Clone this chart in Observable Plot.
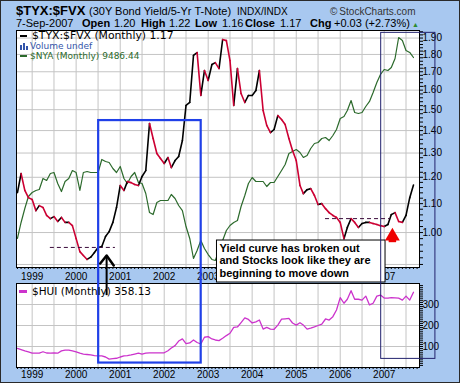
<!DOCTYPE html>
<html><head><meta charset="utf-8">
<script src="https://cdn.jsdelivr.net/npm/d3@7"></script>
<script src="https://cdn.jsdelivr.net/npm/@observablehq/plot@0.6"></script>
<style>
html,body{margin:0;padding:0;background:#fff;}
#chart{position:relative;width:460px;height:383px;background:#a8c8f0;overflow:hidden;font-family:"Liberation Sans",Arial,sans-serif;}
#chart svg{position:absolute;left:0;top:0;}
.t{position:absolute;white-space:nowrap;line-height:1;}
.lg{font-family:"DejaVu Sans",Verdana,sans-serif;}
.b{font-weight:bold;}
#border{position:absolute;left:0;top:0;width:460px;height:383px;box-sizing:border-box;border:1px solid #2a2a2a;pointer-events:none;}
</style></head><body>
<div id="chart"></div>
<script>
// ---- data (monthly, Sep 1998 .. Sep 2007) ----
const firstMonth = "1998-09-01";
const lastMonth = "2007-09-01";
const ratio = [1.141,1.215,1.149,1.122,1.115,1.075,1.093,1.086,1.058,1.047,
 1.054,1.037,1.051,1.034,1.034,1.023,0.980,0.939,0.927,0.915,
 0.922,0.936,0.952,0.955,0.987,1.003,1.034,1.086,1.168,1.149,
 1.183,1.179,1.172,1.168,1.203,1.227,1.433,1.364,1.298,1.277,
 1.256,1.281,1.239,1.268,1.285,1.355,1.521,1.536,1.794,1.811,
 1.572,1.707,1.652,1.741,1.752,1.718,1.891,1.884,1.764,1.521,
 1.718,1.582,1.536,1.572,1.572,1.598,1.707,1.496,1.424,1.391,
 1.405,1.471,1.452,1.428,1.364,1.311,1.268,1.168,1.137,1.152,
 1.156,1.130,1.097,1.100,1.082,1.068,1.058,1.051,1.034,0.980,
 1.017,1.047,1.034,1.017,1.030,1.034,1.034,1.030,1.027,1.023,
 1.020,1.027,1.061,1.068,1.037,1.034,1.058,1.122,1.170];
const nya = [5040,5433,5777,6072,6170,6219,6243,6514,6465,6637,
 6661,6391,6194,6440,6514,6710,6661,6219,6661,6686,
 6661,6661,6661,6981,6931,6907,6759,6661,6809,6514,
 6391,6563,6661,6415,6391,6145,5678,5629,5924,5973,
 5973,5973,6121,6022,5850,5727,5334,5040,4548,4745,
 4990,4794,4646,4524,4499,4745,4990,5236,5359,5433,
 5482,5826,6096,6391,6538,6440,6440,6440,6317,6415,
 6415,6563,6710,6858,7128,7177,7226,7153,7030,7079,
 7251,7374,7398,7497,7521,7447,7570,7718,7988,8037,
 8184,8430,8135,8111,8135,8283,8406,8627,8872,9069,
 9192,9167,9241,9462,9978,9904,9659,9610,9486.44];
const hui = [91,85,79,74,68,68,68,75,69,68,
 70,68,79,83,83,79,74,68,64,62,
 60,57,55,55,50,40,42,44,50,55,
 57,60,64,68,64,68,70,70,70,70,
 70,80,93,104,126,136,114,117,131,119,
 112,144,147,136,131,128,139,152,163,191,
 193,214,236,229,212,217,226,183,191,183,
 182,202,230,232,234,212,202,213,202,183,
 187,193,200,207,231,226,242,274,333,306,
 325,366,325,325,321,340,298,306,340,345,
 331,330,333,332,330,321,340,321,358.13];
const ratioTicks = [0.9,1.0,1.1,1.2,1.3,1.4,1.5,1.6,1.7,1.8,1.9];
const huiTicks = [100,200,300];
const yearLabels = ["1999","2000","2001","2002","2003","2004","2005","2006","2007"];
const hiddenUpperYears = ["2004","2005","2006"]; // covered by the note box
// annotations
const dashLevels = [{from:"1999-06-01",to:"2000-11-22",value:0.952},{from:"2005-09-01",to:"2007-02-21",value:1.047}];
const blueBox = [{from:"2000-07-06",to:"2002-11-04",top:1.447,bottom:0.65}];
const navyBox = [{from:"2006-12-07",to:"2008-03-01",top:1.933,bottom:0.659}];
const noteBox = [{from:"2003-03-15",to:"2007-01-12",top:0.974,bottom:0.848,textAt:"2003-04-05",textTop:0.966,
  text:"Yield curve has broken out\nand Stocks look like they are\nbeginning to move down"}];
const chevron = [{d:"2000-07-19",v:0.903},{d:"2000-09-10",v:0.927},{d:"2000-11-08",v:0.897}];
const blackArrow = [{d:"2000-09-10",from:0.922,to:0.812}];
const redArrow = [{d:"2007-03-10",head:0.988,from:0.984,to:0.967}];

// ---- build ----
const P = s => new Date(s + "T00:00:00Z");
const months = d3.utcMonth.range(P(firstMonth), d3.utcMonth.offset(P(lastMonth),1));
const nyaData = months.map((d,i)=>({date:d, v:nya[i]}));
const huiData = months.map((d,i)=>({date:d, v:hui[i]}));
const segs = ratio.slice(1).map((v,i)=>({d0:months[i],v0:ratio[i],d1:months[i+1],v1:v,up:v>=ratio[i]}));
const yearDates = yearLabels.map(y=>P(y+"-01-01"));
const upperYearDates = yearLabels.filter(y=>!hiddenUpperYears.includes(y)).map(y=>P(y+"-01-01"));
const xDomain = [P("1998-08-24"), P("2007-10-21")];
const gridDates = d3.utcMonth.every(6).range(xDomain[0], xDomain[1]);
const monthTicks = d3.utcMonth.range(xDomain[0], xDomain[1]);
const minorRatio = d3.range(0.90, 1.95, 0.02);
const minorHui = d3.range(10, 400, 10);
const W = 460, H = 383;
const mainM = {marginLeft:16, marginRight:41, marginTop:30, marginBottom:116};
const lowM = {marginLeft:16, marginRight:41, marginTop:283, marginBottom:16};
const st = {background:"transparent", fontFamily:"Liberation Sans, Arial, sans-serif", fontSize:"10px", color:"#000"};
const xs = {type:"utc", domain:xDomain, label:null};
const yMain = {type:"log", domain:[0.891,1.948], label:null};
const grid = "#c4c4c4";
const none = () => "";
const chart = document.getElementById("chart");

// lower panel ($HUI)
chart.append(Plot.plot({width:W, height:H, ...lowM, style:st,
  x:{...xs}, y:{domain:[0,400], label:null},
  marks:[
    Plot.frame({fill:"white"}),
    Plot.ruleX(gridDates,{stroke:grid}),
    Plot.ruleY(huiTicks,{stroke:grid}),
    Plot.line(huiData,{x:"date",y:"v",stroke:"#cc33cc",strokeWidth:1.3}),
    Plot.frame({stroke:"#000"}),
    Plot.axisY(minorHui,{anchor:"right",tickSize:3,tickFormat:none,label:null}),
    Plot.axisY(huiTicks,{anchor:"right",tickSize:0,tickPadding:3,label:null}),
    Plot.axisX(monthTicks,{anchor:"bottom",tickSize:2,tickFormat:none,label:null}),
    Plot.axisX(yearDates,{anchor:"bottom",tickSize:0,tickPadding:3,tickFormat:d3.utcFormat("%Y"),label:null})
  ]}));

// main panel base (white + grid)
chart.append(Plot.plot({width:W, height:H, ...mainM, style:st,
  x:{...xs, axis:null}, y:{...yMain, axis:null},
  marks:[
    Plot.frame({fill:"white"}),
    Plot.ruleX(gridDates,{stroke:grid}),
    Plot.ruleY(ratioTicks,{stroke:grid})
  ]}));

// $NYA overlay (own scale)
chart.append(Plot.plot({width:W, height:H, ...mainM, style:st,
  x:{...xs, axis:null}, y:{domain:[4327,10150], axis:null},
  marks:[Plot.line(nyaData,{x:"date",y:"v",stroke:"#2c6a2c",strokeWidth:1.2})]}));

// main panel top ($TYX:$FVX + annotations)
chart.append(Plot.plot({width:W, height:H, ...mainM, style:st,
  x:{...xs}, y:{...yMain},
  marks:[
    Plot.link(segs.filter(s=>s.up),{x1:"d0",y1:"v0",x2:"d1",y2:"v1",stroke:"#000",strokeWidth:1.6,strokeLinecap:"round"}),
    Plot.link(segs.filter(s=>!s.up),{x1:"d0",y1:"v0",x2:"d1",y2:"v1",stroke:"#cc0033",strokeWidth:1.6,strokeLinecap:"round"}),
    Plot.ruleY(dashLevels,{x1:d=>P(d.from),x2:d=>P(d.to),y:"value",stroke:"#3a0a3a",strokeDasharray:"4,3"}),
    Plot.frame({stroke:"#000"}),
    Plot.axisY(minorRatio,{anchor:"right",tickSize:3,tickFormat:none,label:null}),
    Plot.axisY(ratioTicks,{anchor:"right",tickSize:0,tickPadding:3,tickFormat:d3.format(".2f"),label:null}),
    Plot.axisX(monthTicks,{anchor:"bottom",tickSize:2,tickFormat:none,label:null}),
    Plot.axisX(upperYearDates,{anchor:"bottom",tickSize:0,tickPadding:5,tickFormat:d3.utcFormat("%Y"),label:null}),
    Plot.rect(noteBox,{x1:d=>P(d.from),x2:d=>P(d.to),y1:"top",y2:"bottom",fill:"white",stroke:"#000"}),
    Plot.text(noteBox,{x:d=>P(d.textAt),y:"textTop",text:"text",textAnchor:"start",lineAnchor:"top",fontWeight:"bold",fontSize:11,lineHeight:1.14,fill:"#000"}),
    Plot.rect(blueBox,{x1:d=>P(d.from),x2:d=>P(d.to),y1:"top",y2:"bottom",fill:"none",stroke:"#2040e8",strokeWidth:2.2}),
    Plot.rect(navyBox,{x1:d=>P(d.from),x2:d=>P(d.to),y1:"top",y2:"bottom",fill:"none",stroke:"#22226e",strokeWidth:1}),
    Plot.line(chevron,{x:d=>P(d.d),y:"v",stroke:"#000",strokeWidth:2.5}),
    Plot.ruleX(blackArrow,{x:d=>P(d.d),y1:"from",y2:"to",stroke:"#000",strokeWidth:2}),
    Plot.ruleX(redArrow,{x:d=>P(d.d),y1:"from",y2:"to",stroke:"#ee0000",strokeWidth:7.5}),
    Plot.dot(redArrow,{x:d=>P(d.d),y:"head",symbol:"triangle",r:5.5,fill:"#ee0000",stroke:null})
  ]}));

// ---- texts (title, info line, legends) ----
function T(html, left, top, size, cls, color){
  const e=document.createElement("div"); e.className="t "+(cls||""); e.innerHTML=html;
  e.style.left=left+"px"; e.style.top=top+"px"; e.style.fontSize=size+"px"; if(color) e.style.color=color;
  chart.append(e); return e;
}
function R(left, top, w, h, color){
  const e=document.createElement("div"); e.style.cssText=`position:absolute;left:${left}px;top:${top}px;width:${w}px;height:${h}px;background:${color}`;
  chart.append(e);
}
T("$TYX:$FVX",16,4,13,"b","#000");
T("(30Y Bond Yield/5-Yr T-Note)",89,5.7,11,"","#000");
T("INDX/INDX",237,6.6,10,"","#000");
T("&copy;&thinsp;StockCharts.com",330,6.6,10,"","#333");
const info=[["7-Sep-2007",16,""],["Open",82,"b"],["1.20",114,""],["High",141,"b"],["1.22",169,""],["Low",195,"b"],["1.16",222,""],["Close",245,"b"],["1.17",280,""],["Chg",310,"b"],["+0.03 (+2.73%)",334,""]];
info.forEach(([s,l,c])=>T(s,l,18.2,11,c,"#000"));
T("&#9650;",412,21,7,"","#2e8b2e");
// legends
R(20,35,7,2,"#000");
T("$TYX:$FVX (Monthly) 1.17",32,30.6,10.8,"lg","#000");
R(20,45,2,5,"#3355aa"); R(23,43,2,7,"#3355aa"); R(26,46,2,4,"#3355aa");
T("Volume undef",30,42.4,9,"lg","#3355aa");
R(20,55,7,2,"#2c6a2c");
T("$NYA (Monthly) 9486.44",30,51.9,9,"lg","#2c6a2c");
R(19,290,8,3,"#cc33cc");
T("$HUI (Monthly) 358.13",32,285.6,10.5,"lg","#000");
const b=document.createElement("div"); b.id="border"; chart.append(b);
</script>
</body></html>
